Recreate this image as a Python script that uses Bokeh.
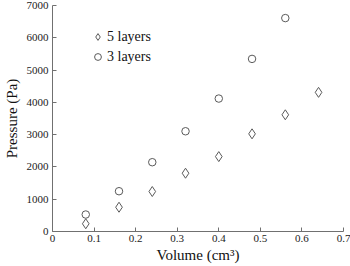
from bokeh.plotting import figure
from bokeh.models import Legend, LegendItem, Range1d, FixedTicker
from bokeh.embed import file_html
from bokeh.resources import INLINE

# Data
vol_5 = [0.08, 0.16, 0.24, 0.32, 0.40, 0.48, 0.56, 0.64]
pres_5 = [240, 752, 1238, 1805, 2320, 3025, 3615, 4310]
vol_3 = [0.08, 0.16, 0.24, 0.32, 0.40, 0.48, 0.56]
pres_3 = [526, 1248, 2146, 3105, 4118, 5346, 6610]
x_ticks = [0, 0.1, 0.2, 0.3, 0.4, 0.5, 0.6, 0.7]
y_ticks = [0, 1000, 2000, 3000, 4000, 5000, 6000, 7000]

FONT = "Liberation Serif"
MC = "#5a5a5a"

p = figure(width=350, height=266, output_backend="svg", toolbar_location=None,
           x_range=Range1d(0, 0.7), y_range=Range1d(0, 7000),
           min_border_left=49, min_border_right=7, min_border_top=5, min_border_bottom=35)
p.outline_line_color = None
p.grid.visible = False
p.background_fill_color = "white"
p.border_fill_color = "white"

r5 = p.scatter(vol_5, pres_5, marker="diamond", size=10, fill_color=None,
               line_color=MC, line_width=1)
r3 = p.scatter(vol_3, pres_3, marker="circle", size=7.5, fill_color=None,
               line_color=MC, line_width=1)

for ax in (p.xaxis[0], p.yaxis[0]):
    ax.axis_line_color = "#707070"
    ax.major_tick_line_color = "#707070"
    ax.major_tick_in = 4
    ax.major_tick_out = 0
    ax.minor_tick_line_color = None
    ax.major_label_text_font = FONT
    ax.major_label_text_font_size = "11px"
    ax.major_label_text_color = "#222222"
    ax.axis_label_text_font = FONT
    ax.axis_label_text_font_size = "15px"
    ax.axis_label_text_font_style = "normal"
    ax.axis_label_text_color = "#111111"

p.xaxis.ticker = FixedTicker(ticks=x_ticks)
p.yaxis.ticker = FixedTicker(ticks=y_ticks)
p.xaxis.major_label_overrides = {0: "0"}
p.xaxis.axis_label = "Volume (cm³)"
p.yaxis.axis_label = "Pressure (Pa)"
p.xaxis.major_label_standoff = 3
p.xaxis.axis_label_standoff = 2
p.yaxis.major_label_standoff = 4
p.yaxis.axis_label_standoff = 4

legend = Legend(items=[LegendItem(label="5 layers", renderers=[r5]),
                       LegendItem(label="3 layers", renderers=[r3])],
                location=(37, 165))
legend.border_line_color = None
legend.background_fill_alpha = 0
legend.label_text_font = FONT
legend.label_text_font_size = "14px"
legend.label_text_color = "#111111"
legend.glyph_width = 17
legend.glyph_height = 19
legend.label_height = 19
legend.spacing = 1
legend.padding = 0
legend.margin = 0
legend.label_standoff = 1
p.add_layout(legend, "center")

open("out.html", "w").write(file_html(p, INLINE))
